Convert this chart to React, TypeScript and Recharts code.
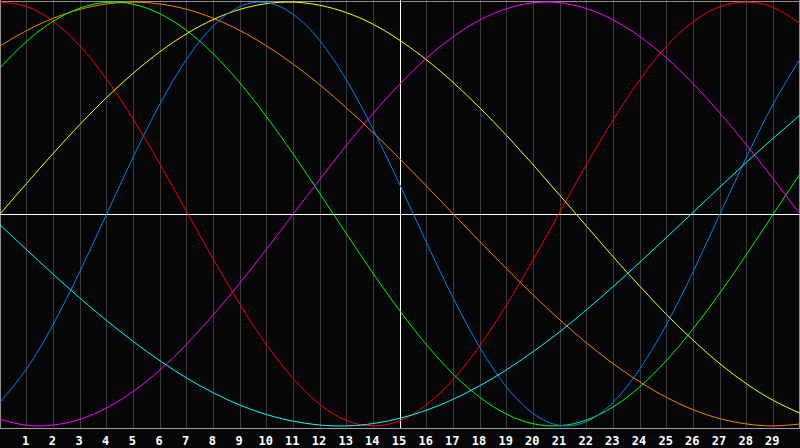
import React from "react";
import { LineChart, Line, XAxis, YAxis, CartesianGrid, ReferenceLine } from "recharts";

const xs = [0, 1, 2, 3, 4, 5, 6, 7, 8, 9, 10, 11, 12, 13, 14, 15, 16, 17, 18, 19, 20, 21, 22, 23, 24, 25, 26, 27, 28, 29, 30];
const tickLabels = [1, 2, 3, 4, 5, 6, 7, 8, 9, 10, 11, 12, 13, 14, 15, 16, 17, 18, 19, 20, 21, 22, 23, 24, 25, 26, 27, 28, 29];

const red = [1.0, 0.979, 0.909, 0.793, 0.636, 0.447, 0.235, 0.011, -0.213, -0.427, -0.618, -0.778, -0.899, -0.975, -1.0, -0.975, -0.9, -0.78, -0.62, -0.428, -0.215, 0.011, 0.235, 0.446, 0.635, 0.793, 0.908, 0.979, 1.0, 0.975, 0.899];
const orange = [0.793, 0.866, 0.924, 0.966, 0.991, 1.0, 0.991, 0.966, 0.924, 0.866, 0.793, 0.707, 0.609, 0.5, 0.383, 0.259, 0.131, 0.0, -0.131, -0.259, -0.383, -0.5, -0.609, -0.707, -0.793, -0.866, -0.924, -0.966, -0.991, -1.0, -0.991];
const green = [0.69, 0.815, 0.91, 0.972, 0.999, 0.99, 0.945, 0.866, 0.756, 0.618, 0.458, 0.282, 0.095, -0.095, -0.282, -0.458, -0.618, -0.756, -0.866, -0.945, -0.99, -0.999, -0.972, -0.91, -0.815, -0.69, -0.541, -0.372, -0.19, 0.0, 0.19];
const yellow = [0.0, 0.145, 0.287, 0.423, 0.55, 0.665, 0.766, 0.851, 0.918, 0.966, 0.993, 1.0, 0.985, 0.95, 0.895, 0.819, 0.727, 0.62, 0.5, 0.37, 0.231, 0.087, -0.058, -0.203, -0.342, -0.475, -0.597, -0.707, -0.802, -0.88, -0.94];
const blue = [-0.888, -0.73, -0.52, -0.27, 0.0, 0.27, 0.52, 0.731, 0.888, 0.979, 0.998, 0.942, 0.817, 0.631, 0.398, 0.136, -0.136, -0.398, -0.631, -0.817, -0.942, -0.998, -0.979, -0.888, -0.73, -0.52, -0.27, 0.0, 0.27, 0.52, 0.731];
const magenta = [-0.969, -0.997, -0.996, -0.969, -0.915, -0.837, -0.736, -0.614, -0.476, -0.325, -0.165, 0.0, 0.165, 0.325, 0.476, 0.614, 0.736, 0.837, 0.916, 0.969, 0.997, 0.997, 0.969, 0.916, 0.837, 0.736, 0.614, 0.476, 0.325, 0.165, 0.0];
const cyan = [-0.051, -0.169, -0.285, -0.397, -0.503, -0.602, -0.693, -0.774, -0.844, -0.902, -0.947, -0.978, -0.996, -1.0, -0.989, -0.964, -0.926, -0.874, -0.81, -0.735, -0.649, -0.555, -0.451, -0.342, -0.227, -0.11, 0.009, 0.128, 0.245, 0.358, 0.467];

const seriesList = [
  { key: "red", values: red, color: "#ff0000" },
  { key: "orange", values: orange, color: "#ff8000" },
  { key: "green", values: green, color: "#00ff00" },
  { key: "yellow", values: yellow, color: "#ffff00" },
  { key: "blue", values: blue, color: "#0080ff" },
  { key: "magenta", values: magenta, color: "#ff00ff" },
  { key: "cyan", values: cyan, color: "#00ffff" },
];

const data = xs.map((x, i) => {
  const row: Record<string, number> = { x };
  seriesList.forEach((s) => {
    row[s.key] = s.values[i];
  });
  return row;
});

const css = `
.recharts-reference-line line, .recharts-cartesian-grid line, .recharts-cartesian-axis-line { shape-rendering: crispEdges; }
`;

export default function App() {
  return (
    <div style={{ position: "fixed", left: 0, top: 0, width: 800, height: 448, background: "#060609" }}>
      <style>{css}</style>
      <LineChart width={800} height={448} data={data} margin={{ top: 0, right: 0, bottom: 0, left: 0 }}>
        <CartesianGrid horizontal={false} vertical={true} stroke="#3a3a3a" />
        <XAxis
          type="number"
          dataKey="x"
          domain={[0, 30]}
          ticks={tickLabels}
          interval={0}
          height={20}
          tickLine={false}
          axisLine={{ stroke: "#a0a0a0" }}
          tickMargin={2}
          tick={{ fill: "#ffffff", fontSize: 12, fontWeight: "bold", fontFamily: "DejaVu Sans Mono", dx: -1 }}
        />
        <YAxis hide domain={[-1.01, 1.01]} type="number" />
        <ReferenceLine x={0.02} stroke="#909090" />
        <ReferenceLine x={29.98} stroke="#909090" />
        <ReferenceLine y={1.005} stroke="#909090" />
        <ReferenceLine x={15} stroke="#ffffff" />
        <ReferenceLine y={0} stroke="#ffffff" />
        {seriesList.map((s) => (
          <Line
            key={s.key}
            type="natural"
            dataKey={s.key}
            stroke={s.color}
            strokeWidth={1}
            dot={false}
            activeDot={false}
            isAnimationActive={false}
          />
        ))}
      </LineChart>
    </div>
  );
}
